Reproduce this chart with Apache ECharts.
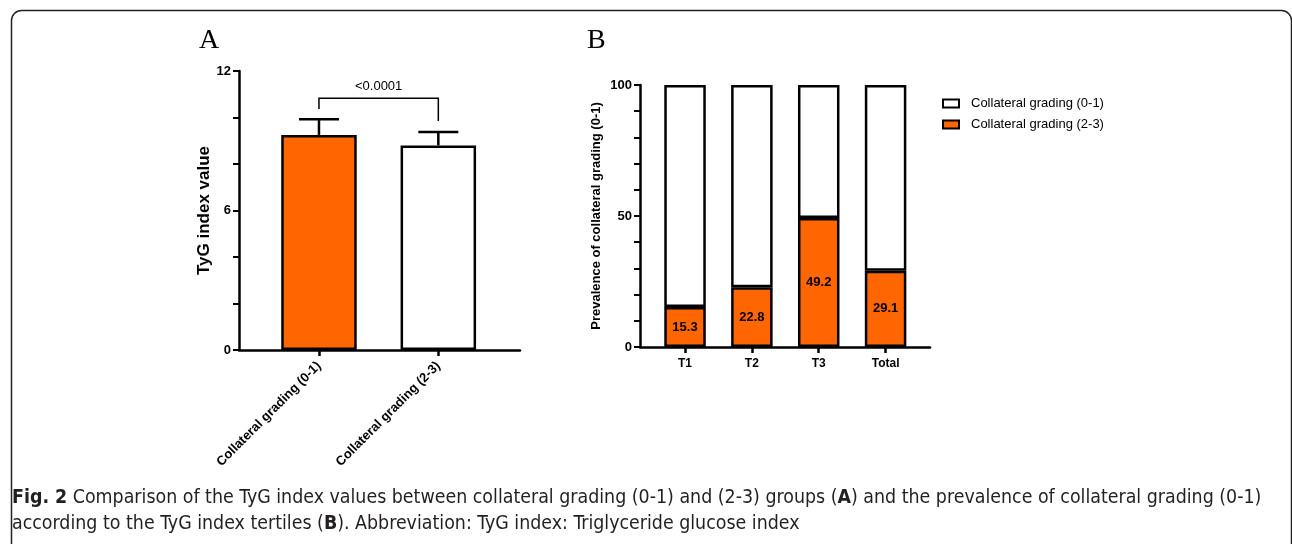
<!DOCTYPE html>
<html><head><meta charset="utf-8">
<script src="https://cdn.jsdelivr.net/npm/echarts@6/dist/echarts.min.js"></script>
<style>html,body{margin:0;padding:0;background:#fff}#c{width:1292px;height:544px}</style>
</head><body><div id="c"></div>
<script>
// Panel A data
const groupsA = ['Collateral grading (0-1)', 'Collateral grading (2-3)'];
const meanA = [9.25, 8.80];
const errTopA = [9.93, 9.38];
const colorsA = ['#FF6600', '#FFFFFF'];
const bracketA = [10.37, 10.83, 9.85]; // left leg end, bar level, right leg end
const pLabelA = '<0.0001';
const pLabelY = 11.35;
const ticksA = [0, 6, 12];

// Panel B data
const catsB = ['T1', 'T2', 'T3', 'Total'];
const grade23 = [15.3, 22.8, 49.2, 29.1];
const grade01 = [84.7, 77.2, 50.8, 70.9];
const ticksB = [0, 50, 100];
const legendNames = ['Collateral grading (0-1)', 'Collateral grading (2-3)'];

const ORANGE = '#FF6600';
const F = '"Liberation Sans", Arial, sans-serif';
const CF = '"Liberation Sans Narrow", "DejaVu Sans Condensed", sans-serif';
const AX = 2.5;

const chart = echarts.init(document.getElementById('c'));

const frameX = (gi) => ({
  type: 'value', gridIndex: gi, min: 0, max: 1,
  axisLine: {show: true, lineStyle: {color: '#000', width: AX}},
  axisTick: {show: false}, axisLabel: {show: false}, splitLine: {show: false}
});
const frameY = (gi, max, interval, labels, name, nameGap, nameSize) => ({
  type: 'value', gridIndex: gi, min: 0, max: max, interval: interval,
  axisLine: {show: true, lineStyle: {color: '#000', width: AX}},
  axisTick: {show: true, length: 6, lineStyle: {color: '#000', width: 2}},
  axisLabel: {show: true, margin: 8, color: '#000', fontFamily: F, fontWeight: 'bold', fontSize: 13,
    formatter: v => labels.indexOf(v) >= 0 ? String(v) : ''},
  splitLine: {show: false},
  name: name, nameLocation: 'middle', nameGap: nameGap,
  nameTextStyle: {color: '#000', fontFamily: F, fontWeight: 'bold', fontSize: nameSize}
});
const hiddenY = (gi, max) => ({type: 'value', gridIndex: gi, min: 0, max: max, show: false});

const option = {
  animation: false,
  backgroundColor: '#fff',
  grid: [
    {left: 239, top: 71, width: 281, height: 279},
    {left: 259.3, top: 71, width: 238.7, height: 279},
    {left: 640, top: 85, width: 290, height: 262},
    {left: 651.6, top: 85, width: 267.4, height: 262}
  ],
  xAxis: [
    frameX(0),
    {type: 'category', gridIndex: 1, data: groupsA,
      axisLine: {show: false},
      axisTick: {show: true, alignWithLabel: true, length: 6, lineStyle: {color: '#000', width: 2.5}},
      axisLabel: {rotate: 45, margin: 14, color: '#000', fontFamily: F, fontWeight: 'bold', fontSize: 13}},
    frameX(2),
    {type: 'category', gridIndex: 3, data: catsB,
      axisLine: {show: false},
      axisTick: {show: true, alignWithLabel: true, length: 6, lineStyle: {color: '#000', width: 2.5}},
      axisLabel: {margin: 11, color: '#000', fontFamily: F, fontWeight: 'bold', fontSize: 12}}
  ],
  yAxis: [
    frameY(0, 12, 2, ticksA, 'TyG index value', 23, 17),
    hiddenY(1, 12),
    frameY(2, 100, 10, ticksB, 'Prevalence of collateral grading (0-1)', 37, 13),
    hiddenY(3, 100)
  ],
  legend: {
    orient: 'vertical', left: 937, top: 92, itemWidth: 16, itemHeight: 8, itemGap: 8,
    icon: 'rect', data: legendNames,
    itemStyle: {borderColor: '#000', borderWidth: 2},
    textStyle: {color: '#000', fontFamily: F, fontSize: 13, padding: [0, 0, 0, 7]}
  },
  series: [
    {type: 'bar', xAxisIndex: 1, yAxisIndex: 1, barWidth: 75.5,
      data: meanA.map((v, i) => ({value: v, itemStyle: {color: colorsA[i]}})),
      itemStyle: {borderColor: '#000', borderWidth: AX}},
    {type: 'custom', xAxisIndex: 1, yAxisIndex: 1, z: 1,
      data: errTopA.map((t, i) => [i, meanA[i], t]),
      renderItem: (params, api) => {
        const b = api.coord([api.value(0), api.value(1)]);
        const t = api.coord([api.value(0), api.value(2)]);
        const st = {stroke: '#000', lineWidth: 2.5};
        return {type: 'group', children: [
          {type: 'line', shape: {x1: b[0], y1: b[1], x2: t[0], y2: t[1]}, style: st},
          {type: 'line', shape: {x1: t[0] - 20, y1: t[1], x2: t[0] + 20, y2: t[1]}, style: st}
        ]};
      }},
    {type: 'custom', xAxisIndex: 1, yAxisIndex: 1,
      data: [[0, 1, bracketA[0], bracketA[1], bracketA[2], pLabelY]],
      renderItem: (params, api) => {
        const l0 = api.coord([0, api.value(2)]);
        const l1 = api.coord([0, api.value(3)]);
        const r1 = api.coord([1, api.value(3)]);
        const r0 = api.coord([1, api.value(4)]);
        const ty = api.coord([0, api.value(5)])[1];
        return {type: 'group', children: [
          {type: 'polyline', shape: {points: [l0, l1, r1, r0]}, style: {stroke: '#000', lineWidth: 1.5, fill: null}},
          {type: 'text', style: {text: pLabelA, x: (l1[0] + r1[0]) / 2, y: ty, align: 'center', verticalAlign: 'middle',
            fill: '#000', font: '13px ' + F}}
        ]};
      }},
    {name: legendNames[1], type: 'bar', stack: 'b', xAxisIndex: 3, yAxisIndex: 3, barWidth: 41.5, z: 3,
      data: grade23, itemStyle: {color: ORANGE, borderColor: '#000', borderWidth: AX},
      label: {show: true, position: 'inside', color: '#000', fontFamily: F, fontWeight: 'bold', fontSize: 13}},
    {name: legendNames[0], type: 'bar', stack: 'b', xAxisIndex: 3, yAxisIndex: 3, barWidth: 41.5, z: 2,
      data: grade01, itemStyle: {color: '#fff', borderColor: '#000', borderWidth: AX}}
  ],
  graphic: [
    {type: 'rect', left: 9, top: 8, shape: {width: 1280, height: 600, r: 10}, z: -10, silent: true,
      style: {fill: null, stroke: '#222', lineWidth: 1.5}},
    {type: 'text', left: 199, top: 27, style: {text: 'A', font: '28px "Liberation Serif", "Times New Roman", serif', fill: '#000'}},
    {type: 'text', left: 587, top: 27, style: {text: 'B', font: '28px "Liberation Serif", "Times New Roman", serif', fill: '#000'}},
    {type: 'text', left: 12, top: 485, style: {
      text: '{b|Fig. 2} Comparison of the TyG index values between collateral grading (0-1) and (2-3) groups ({b|A}) and the prevalence of collateral grading (0-1)\naccording to the TyG index tertiles ({b|B}). Abbreviation: TyG index: Triglyceride glucose index',
      font: '19.4px ' + CF, fill: '#231f20', lineHeight: 26,
      rich: {b: {fontWeight: 'bold', fontSize: 19.4, fontFamily: CF, fill: '#231f20', lineHeight: 26}}
    }}
  ]
};
chart.setOption(option);
</script></body></html>
